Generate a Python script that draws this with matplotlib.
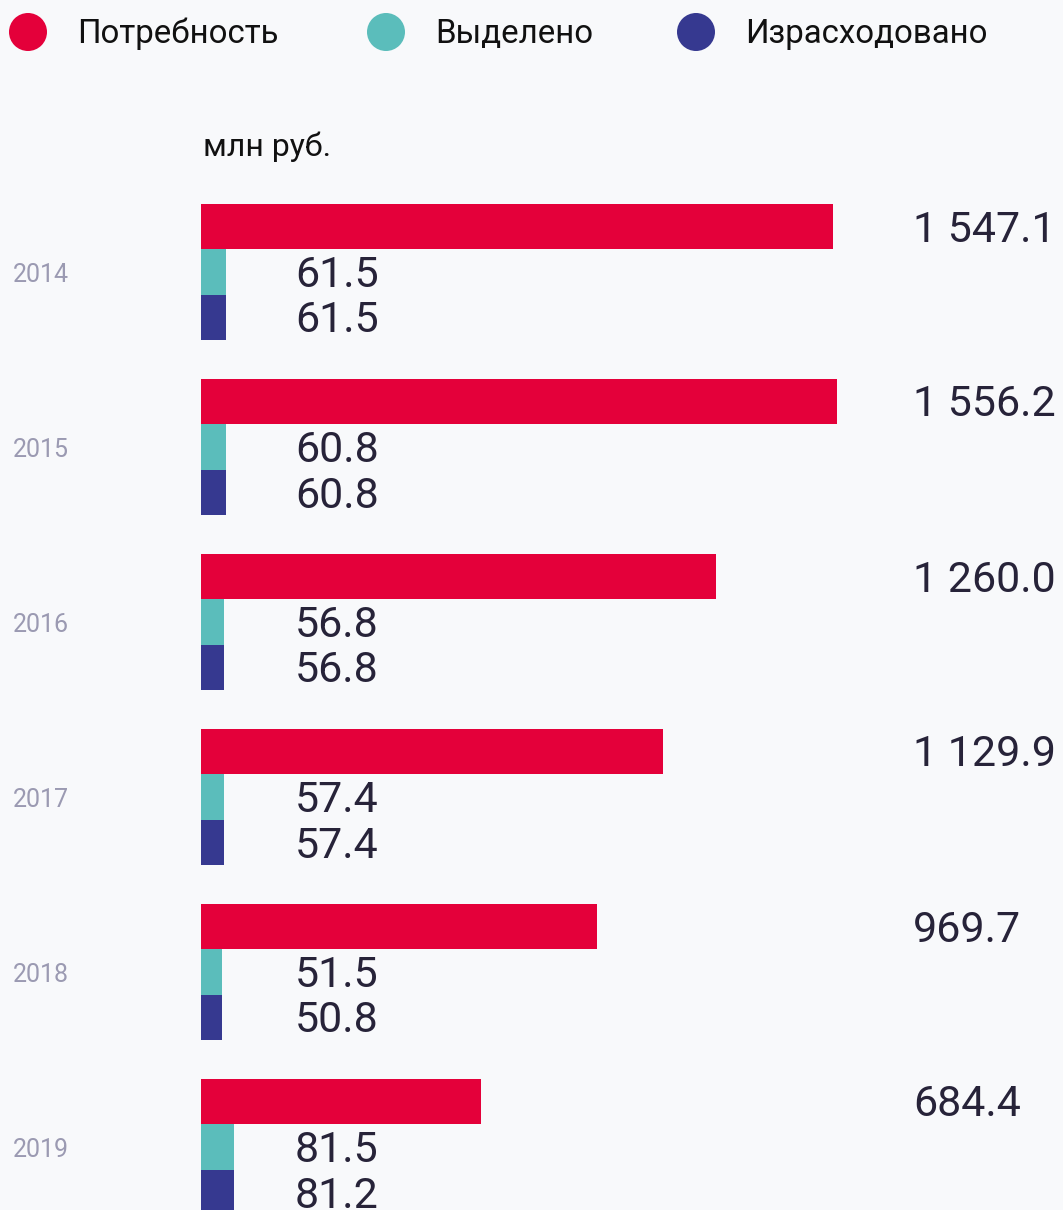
import matplotlib
matplotlib.use("Agg")
import matplotlib.pyplot as plt
from matplotlib.patches import Circle

plt.rcParams['font.family'] = ['Roboto', 'DejaVu Sans']

years = ["2014", "2015", "2016", "2017", "2018", "2019"]
need = [1547.1, 1556.2, 1260.0, 1129.9, 969.7, 684.4]
allocated = [61.5, 60.8, 56.8, 57.4, 51.5, 81.5]
spent = [61.5, 60.8, 56.8, 57.4, 50.8, 81.2]
need_labels = ["1 547.1", "1 556.2", "1 260.0", "1 129.9", "969.7", "684.4"]
series_names = ["Потребность", "Выделено", "Израсходовано"]
unit_label = "млн руб."

RED = "#e4003a"
TEAL = "#5bbdbb"
NAVY = "#363990"
TXT = "#272339"
GREY = "#9b9ab2"
BG = "#f8f9fb"

W, H = 1063, 1210
fig = plt.figure(figsize=(W / 100, H / 100), dpi=100, facecolor=BG)

# data axes: x in value units, y in pixel rows
scale = 0.4087  # px per unit
x0 = 201
ax = fig.add_axes([0, 0, 1, 1])
ax.set_facecolor(BG)
ax.set_xlim(-x0 / scale, (W - x0) / scale)
ax.set_ylim(H, 0)
ax.axis("off")

bh = 45.5
gap = 175
top = 226.5
vfs = 31
off = 15
for i, y in enumerate(years):
    yc = top + gap * i
    ax.barh(yc, need[i], height=bh, color=RED, left=0)
    ax.barh(yc + bh, allocated[i], height=bh, color=TEAL, left=0)
    ax.barh(yc + 2 * bh, spent[i], height=bh, color=NAVY, left=0)
    ax.text(1742, yc + off, need_labels[i], fontsize=vfs, color=TXT, va="baseline", ha="left")
    ax.text(230, yc + bh + off, f"{allocated[i]:.1f}", fontsize=vfs, color=TXT, va="baseline", ha="left")
    ax.text(230, yc + 2 * bh + off, f"{spent[i]:.1f}", fontsize=vfs, color=TXT, va="baseline", ha="left")

# overlay in pixel coords for legend, unit, years
ov = fig.add_axes([0, 0, 1, 1])
ov.set_xlim(0, W)
ov.set_ylim(H, 0)
ov.axis("off")
ov.patch.set_alpha(0)

leg_x = [28, 386, 696]
leg_cols = [RED, TEAL, NAVY]
for cx, col, name in zip(leg_x, leg_cols, series_names):
    ov.add_patch(Circle((cx, 32), 19, color=col, lw=0))
    ov.text(cx + 49, 43, name, fontsize=23.8, color="#111111", va="baseline", ha="left")

ov.text(203, 156, unit_label, fontsize=23, color="#111111", va="baseline", ha="left")

for i, y in enumerate(years):
    ov.text(13, top + gap * i + bh + 10, y, fontsize=18, color=GREY, va="baseline", ha="left")

fig.savefig("out.png", dpi=100, facecolor=BG)
